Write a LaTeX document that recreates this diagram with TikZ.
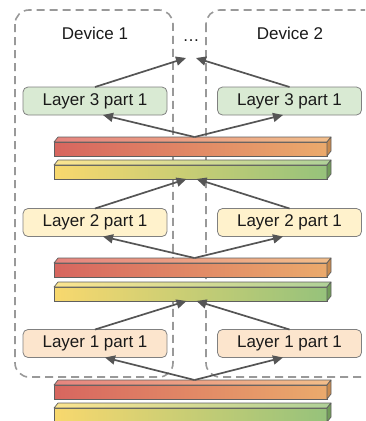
\documentclass[tikz,border=0pt]{standalone}
\usepackage{fontspec}
\setmainfont{Liberation Sans}
\usetikzlibrary{arrows.meta,calc}
\definecolor{redL}{HTML}{D7665F}
\definecolor{redR}{HTML}{EBAA6C}
\definecolor{redTL}{HTML}{E6857F}
\definecolor{redTR}{HTML}{F2BE8A}
\definecolor{redS}{HTML}{C98A4E}
\definecolor{grnL}{HTML}{F8D86E}
\definecolor{grnR}{HTML}{96C27B}
\definecolor{grnTL}{HTML}{FBE48F}
\definecolor{grnTR}{HTML}{AFD198}
\definecolor{grnS}{HTML}{729C5A}
\definecolor{slabline}{HTML}{5F5F5F}
\definecolor{boxline}{HTML}{808080}
\definecolor{arrowc}{HTML}{555555}
\definecolor{devline}{HTML}{999999}
\definecolor{fillA}{HTML}{D9EAD3}
\definecolor{fillB}{HTML}{FFF2CC}
\definecolor{fillC}{HTML}{FCE5CD}
\definecolor{textc}{HTML}{1A1A1A}
\newcommand{\drawslab}[3]{%
  \node[slab, left color=#3L, right color=#3R] (#1) at (190.5,#2) {};
  \shadedraw[left color=#3TL, right color=#3TR, draw=slabline, line width=0.7pt, line join=round]
    (#1.north west) -- ++(4,-5) -- ($(#1.north east)+(4,-5)$) -- (#1.north east) -- cycle;
  \filldraw[fill=#3S, draw=slabline, line width=0.7pt, line join=round]
    (#1.north east) -- ++(4,-5) -- ($(#1.south east)+(4,-5)$) -- (#1.south east) -- cycle;
}
\tikzset{
  slab/.style={draw=slabline, line width=0.7pt, minimum width=273pt, minimum height=14pt, inner sep=0pt, outer sep=0pt},
  layer/.style={draw=boxline, line width=0.8pt, rounded corners=5pt, minimum width=144pt, minimum height=28pt, inner sep=0pt, outer sep=0pt, font=\fontsize{17}{20}\selectfont, text=textc},
  arr/.style={draw=arrowc, line width=1.7pt, -{Triangle[length=10pt,width=9pt]}},
  device/.style={draw=devline, line width=1.6pt, dash pattern=on 8pt off 5pt, rounded corners=14pt},
  lbl/.style={font=\fontsize{17}{20}\selectfont, text=textc, inner sep=0pt}
}
\begin{document}
\begin{tikzpicture}[x=1pt,y=-1pt]
\useasboundingbox (0,0) rectangle (365,421);
\clip (0,0) rectangle (365,421);
% devices
\draw[device] (15,10) rectangle (173,377);
\draw[device] (206,10) rectangle (385,377);
\node[lbl] (dev1) at (95,33) {Device 1};
\node[lbl] (dev2) at (290,33) {Device 2};
\node[lbl] (dots) at (191,41) {\dots};
\coordinate (eL) at (186,58);
\coordinate (eR) at (196,58);
% slabs
\drawslab{r1}{149}{red}
\drawslab{g1}{172}{grn}
\drawslab{r2}{270}{red}
\drawslab{g2}{294}{grn}
\drawslab{r3}{392}{red}
\drawslab{g3}{415}{grn}
% layer boxes
\node[layer, fill=fillA] (l3a) at (95,101) {Layer 3 part 1};
\node[layer, fill=fillA] (l3b) at (289.5,101) {Layer 3 part 1};
\node[layer, fill=fillB] (l2a) at (95,222.5) {Layer 2 part 1};
\node[layer, fill=fillB] (l2b) at (289.5,222.5) {Layer 2 part 1};
\node[layer, fill=fillC] (l1a) at (95,343.5) {Layer 1 part 1};
\node[layer, fill=fillC] (l1b) at (289.5,343.5) {Layer 1 part 1};
% arrows layer 3
\draw[arr] (l3a.north) -- (eL);
\draw[arr] (l3b.north) -- (eR);
\draw[arr] ($(r1.north)+(4,-5)$) -- ($(l3a.south)+(8,0)$);
\draw[arr] ($(r1.north)+(4,-5)$) -- ($(l3b.south)+(-6.5,0)$);
% arrows layer 2
\draw[arr] (l2a.north) -- ($(g1.south)+(-4,0)$);
\draw[arr] (l2b.north) -- ($(g1.south)+(6,0)$);
\draw[arr] ($(r2.north)+(4,-5)$) -- ($(l2a.south)+(8,0)$);
\draw[arr] ($(r2.north)+(4,-5)$) -- ($(l2b.south)+(-6.5,0)$);
% arrows layer 1
\draw[arr] (l1a.north) -- ($(g2.south)+(-4,0)$);
\draw[arr] (l1b.north) -- ($(g2.south)+(6,0)$);
\draw[arr] ($(r3.north)+(4,-5)$) -- ($(l1a.south)+(10,0)$);
\draw[arr] ($(r3.north)+(4,-5)$) -- ($(l1b.south)+(-6.5,0)$);
\end{tikzpicture}
\end{document}
